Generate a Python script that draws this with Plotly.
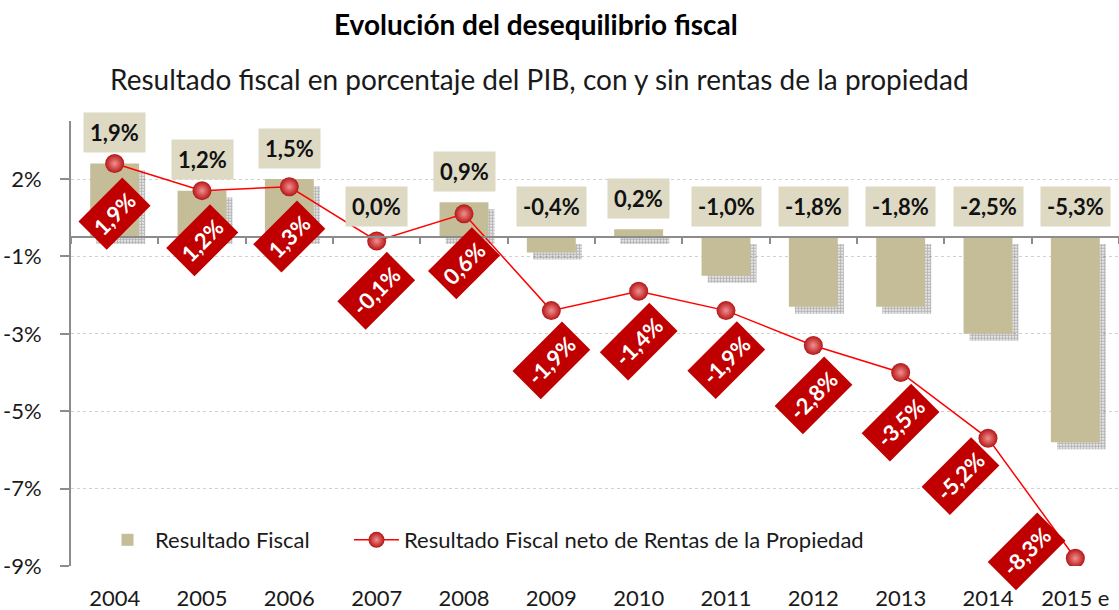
import plotly.graph_objects as go

years = ["2004", "2005", "2006", "2007", "2008", "2009", "2010", "2011", "2012", "2013", "2014", "2015 e"]
resultado_fiscal = [1.9, 1.2, 1.5, 0.0, 0.9, -0.4, 0.2, -1.0, -1.8, -1.8, -2.5, -5.3]
resultado_neto = [1.9, 1.2, 1.3, -0.1, 0.6, -1.9, -1.4, -1.9, -2.8, -3.5, -5.2, -8.3]
y_tickvals = [1.5, -0.5, -2.5, -4.5, -6.5, -8.5]
y_ticktext = ["2%", "-1%", "-3%", "-5%", "-7%", "-9%"]

FONT = "Lato"
BAR = "#C4BD97"
BOX = "#DDD9C3"
RED = "#C00000"
Y_RANGE = [-8.5, 3.0]
W, H = 1119, 610
M = dict(l=71, r=0, t=121, b=44)

def pct(v):
    return f"{v:.1f}%".replace(".", ",")

def px_to_paper(px, py):
    pw = W - M["l"] - M["r"]
    ph = H - M["t"] - M["b"]
    return (px - M["l"]) / pw, (H - M["b"] - py) / ph

fig = go.Figure()

# shadow of bars
fig.add_trace(go.Bar(
    x=years, y=resultado_fiscal, base=-0.18, width=0.56, offset=-0.21,
    marker=dict(color="rgba(0,0,0,0)", line=dict(width=0),
                pattern=dict(shape=".", size=3, solidity=0.7, fgcolor="#6e6e6e", bgcolor="rgba(0,0,0,0)")),
    showlegend=False, hoverinfo="skip",
))
fig.add_trace(go.Bar(
    x=years, y=resultado_fiscal, width=0.56, offset=-0.28,
    marker=dict(color=BAR, line=dict(width=0)),
    name="Resultado Fiscal", hoverinfo="skip", legend="legend",
))
fig.add_trace(go.Scatter(
    x=years, y=resultado_neto, mode="lines+markers",
    line=dict(color="#FF0000", width=1.5),
    marker=dict(size=19, color="#B51515", gradient=dict(type="radial", color="#F29090"),
                line=dict(width=0)),
    name="Resultado Fiscal neto de Rentas de la Propiedad", hoverinfo="skip", legend="legend2",
))
# invisible helper for the baseline axis
fig.add_trace(go.Scatter(
    x=years, y=resultado_fiscal, xaxis="x2", mode="markers",
    marker=dict(opacity=0), showlegend=False, hoverinfo="skip",
))

annotations = []
for i, v in enumerate(resultado_fiscal):
    annotations.append(dict(
        x=i, y=max(v, 0) + 0.8, xref="x", yref="y", text=f"<b>{pct(v)}</b>",
        showarrow=False, bgcolor=BOX, borderpad=6,
        font=dict(family=FONT, size=22, color="#111"),
    ))

red_shift = {10: (-28, -38), 11: (-49, 7)}
for i, v in enumerate(resultado_neto):
    dx, dy = red_shift.get(i, (0, -50))
    annotations.append(dict(
        x=i, y=v, xref="x", yref="y", text=f"<b>{pct(v)}</b>",
        showarrow=False, bgcolor=RED, borderpad=6, textangle=-45,
        xshift=dx, yshift=dy,
        font=dict(family=FONT, size=22, color="white"),
    ))

tx, ty = px_to_paper(536, 24)
annotations.append(dict(
    text="<b>Evolución del desequilibrio fiscal</b>", xref="paper", yref="paper",
    x=tx, y=ty, xanchor="center", yanchor="middle", showarrow=False,
    font=dict(family=FONT, size=28, color="#000"),
))
sx, sy = px_to_paper(539, 79)
annotations.append(dict(
    text="Resultado fiscal en porcentaje del PIB, con y sin rentas de la propiedad",
    xref="paper", yref="paper",
    x=sx, y=sy, xanchor="center", yanchor="middle", showarrow=False,
    font=dict(family=FONT, size=28, color="#1a1a1a"),
))

lx, ly = px_to_paper(100, 540)
l2x, _ = px_to_paper(349, 540)
legend_style = dict(orientation="h", y=ly, xanchor="left", yanchor="middle",
                    bgcolor="rgba(0,0,0,0)", font=dict(family=FONT, size=22, color="#1a1a1a"),
                    itemwidth=45)

fig.update_layout(
    width=W, height=H,
    margin=M,
    paper_bgcolor="white", plot_bgcolor="white",
    barmode="overlay",
    font=dict(family=FONT, size=20, color="#1a1a1a"),
    annotations=annotations,
    legend=dict(x=lx, **legend_style),
    legend2=dict(x=l2x, **legend_style),
    xaxis=dict(type="category", categoryorder="array", categoryarray=years,
               range=[-0.5, len(years) - 0.5], showline=False, ticks="",
               showgrid=False, zeroline=False, ticklabelstandoff=17,
               tickfont=dict(family=FONT, size=22, color="#1a1a1a")),
    xaxis2=dict(type="category", categoryorder="array", categoryarray=years,
                overlaying="x", anchor="free",
                position=(0 - Y_RANGE[0]) / (Y_RANGE[1] - Y_RANGE[0]),
                range=[-0.5, len(years) - 0.5], showline=True, linecolor="#8c8c8c", linewidth=2,
                ticks="outside", ticklen=6, tickwidth=1.5, tickcolor="#8c8c8c",
                tickson="boundaries", showticklabels=False, showgrid=False, zeroline=False),
    yaxis=dict(range=Y_RANGE, tickvals=y_tickvals, ticktext=y_ticktext,
               showline=True, linecolor="#8c8c8c", linewidth=2,
               ticks="outside", ticklen=9, tickwidth=2, tickcolor="#8c8c8c",
               ticklabelstandoff=14,
               showgrid=True, gridcolor="#D0D0D0", griddash="dot", gridwidth=1,
               zeroline=False, tickfont=dict(family=FONT, size=22, color="#1a1a1a")),
)

fig.write_html("out.html", config={"displayModeBar": False},
               post_script="document.body.style.margin='0';")
